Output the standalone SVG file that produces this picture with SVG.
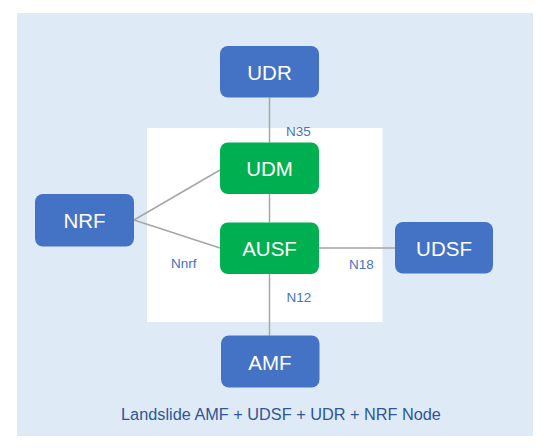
<svg xmlns="http://www.w3.org/2000/svg" width="548" height="448" viewBox="0 0 548 448">
<style>
.bg{fill:#DEEBF7}
.inner{fill:#FFFFFF}
.blue{fill:#4472C4}
.green{fill:#00B050}
.lbl{font-family:"Liberation Sans",Arial,sans-serif;font-size:20.5px;fill:#FFFFFF;text-anchor:middle}
.if{font-family:"Liberation Sans",Arial,sans-serif;font-size:13.5px;fill:#4472C4}
.title{font-family:"Liberation Sans",Arial,sans-serif;font-size:16.3px;fill:#2F5597;text-anchor:middle}
.conn line{stroke:#A6A6A6;stroke-width:1.5}
</style>
<rect width="548" height="448" fill="#FFFFFF"/>
<rect class="bg" x="17" y="13" width="516" height="423"/>
<rect class="inner" x="147" y="128" width="235.5" height="194"/>
<g id="connectors" class="conn">
<line x1="269.5" y1="97.5" x2="269.5" y2="142.5"/>
<line x1="269.5" y1="194" x2="269.5" y2="222.5"/>
<line x1="269.5" y1="274" x2="269.5" y2="335.5"/>
<line x1="134" y1="220" x2="220" y2="170"/>
<line x1="134" y1="220" x2="220" y2="248"/>
<line x1="319" y1="248" x2="395" y2="248"/>
</g>
<g id="UDR"><rect class="blue" x="220" y="46" width="99" height="51.5" rx="8"/><text class="lbl" x="269.5" y="80">UDR</text></g>
<g id="UDM"><rect class="green" x="220" y="142.5" width="99" height="51.5" rx="8"/><text class="lbl" x="269.5" y="176">UDM</text></g>
<g id="AUSF"><rect class="green" x="220" y="222.5" width="99" height="51.5" rx="8"/><text class="lbl" x="269.5" y="256">AUSF</text></g>
<g id="NRF"><rect class="blue" x="35" y="194" width="99" height="52.5" rx="8"/><text class="lbl" x="84.5" y="228">NRF</text></g>
<g id="UDSF"><rect class="blue" x="395" y="222" width="98" height="51.5" rx="8"/><text class="lbl" x="444" y="256">UDSF</text></g>
<g id="AMF"><rect class="blue" x="221" y="335.5" width="98.5" height="52" rx="8"/><text class="lbl" x="270" y="369.5">AMF</text></g>
<g id="labels">
<text class="if" x="286" y="136">N35</text>
<text class="if" x="349" y="269">N18</text>
<text class="if" x="286.5" y="302">N12</text>
<text class="if" x="171" y="268">Nnrf</text>
</g>
<text class="title" x="281" y="420">Landslide AMF + UDSF + UDR + NRF Node</text>
</svg>
